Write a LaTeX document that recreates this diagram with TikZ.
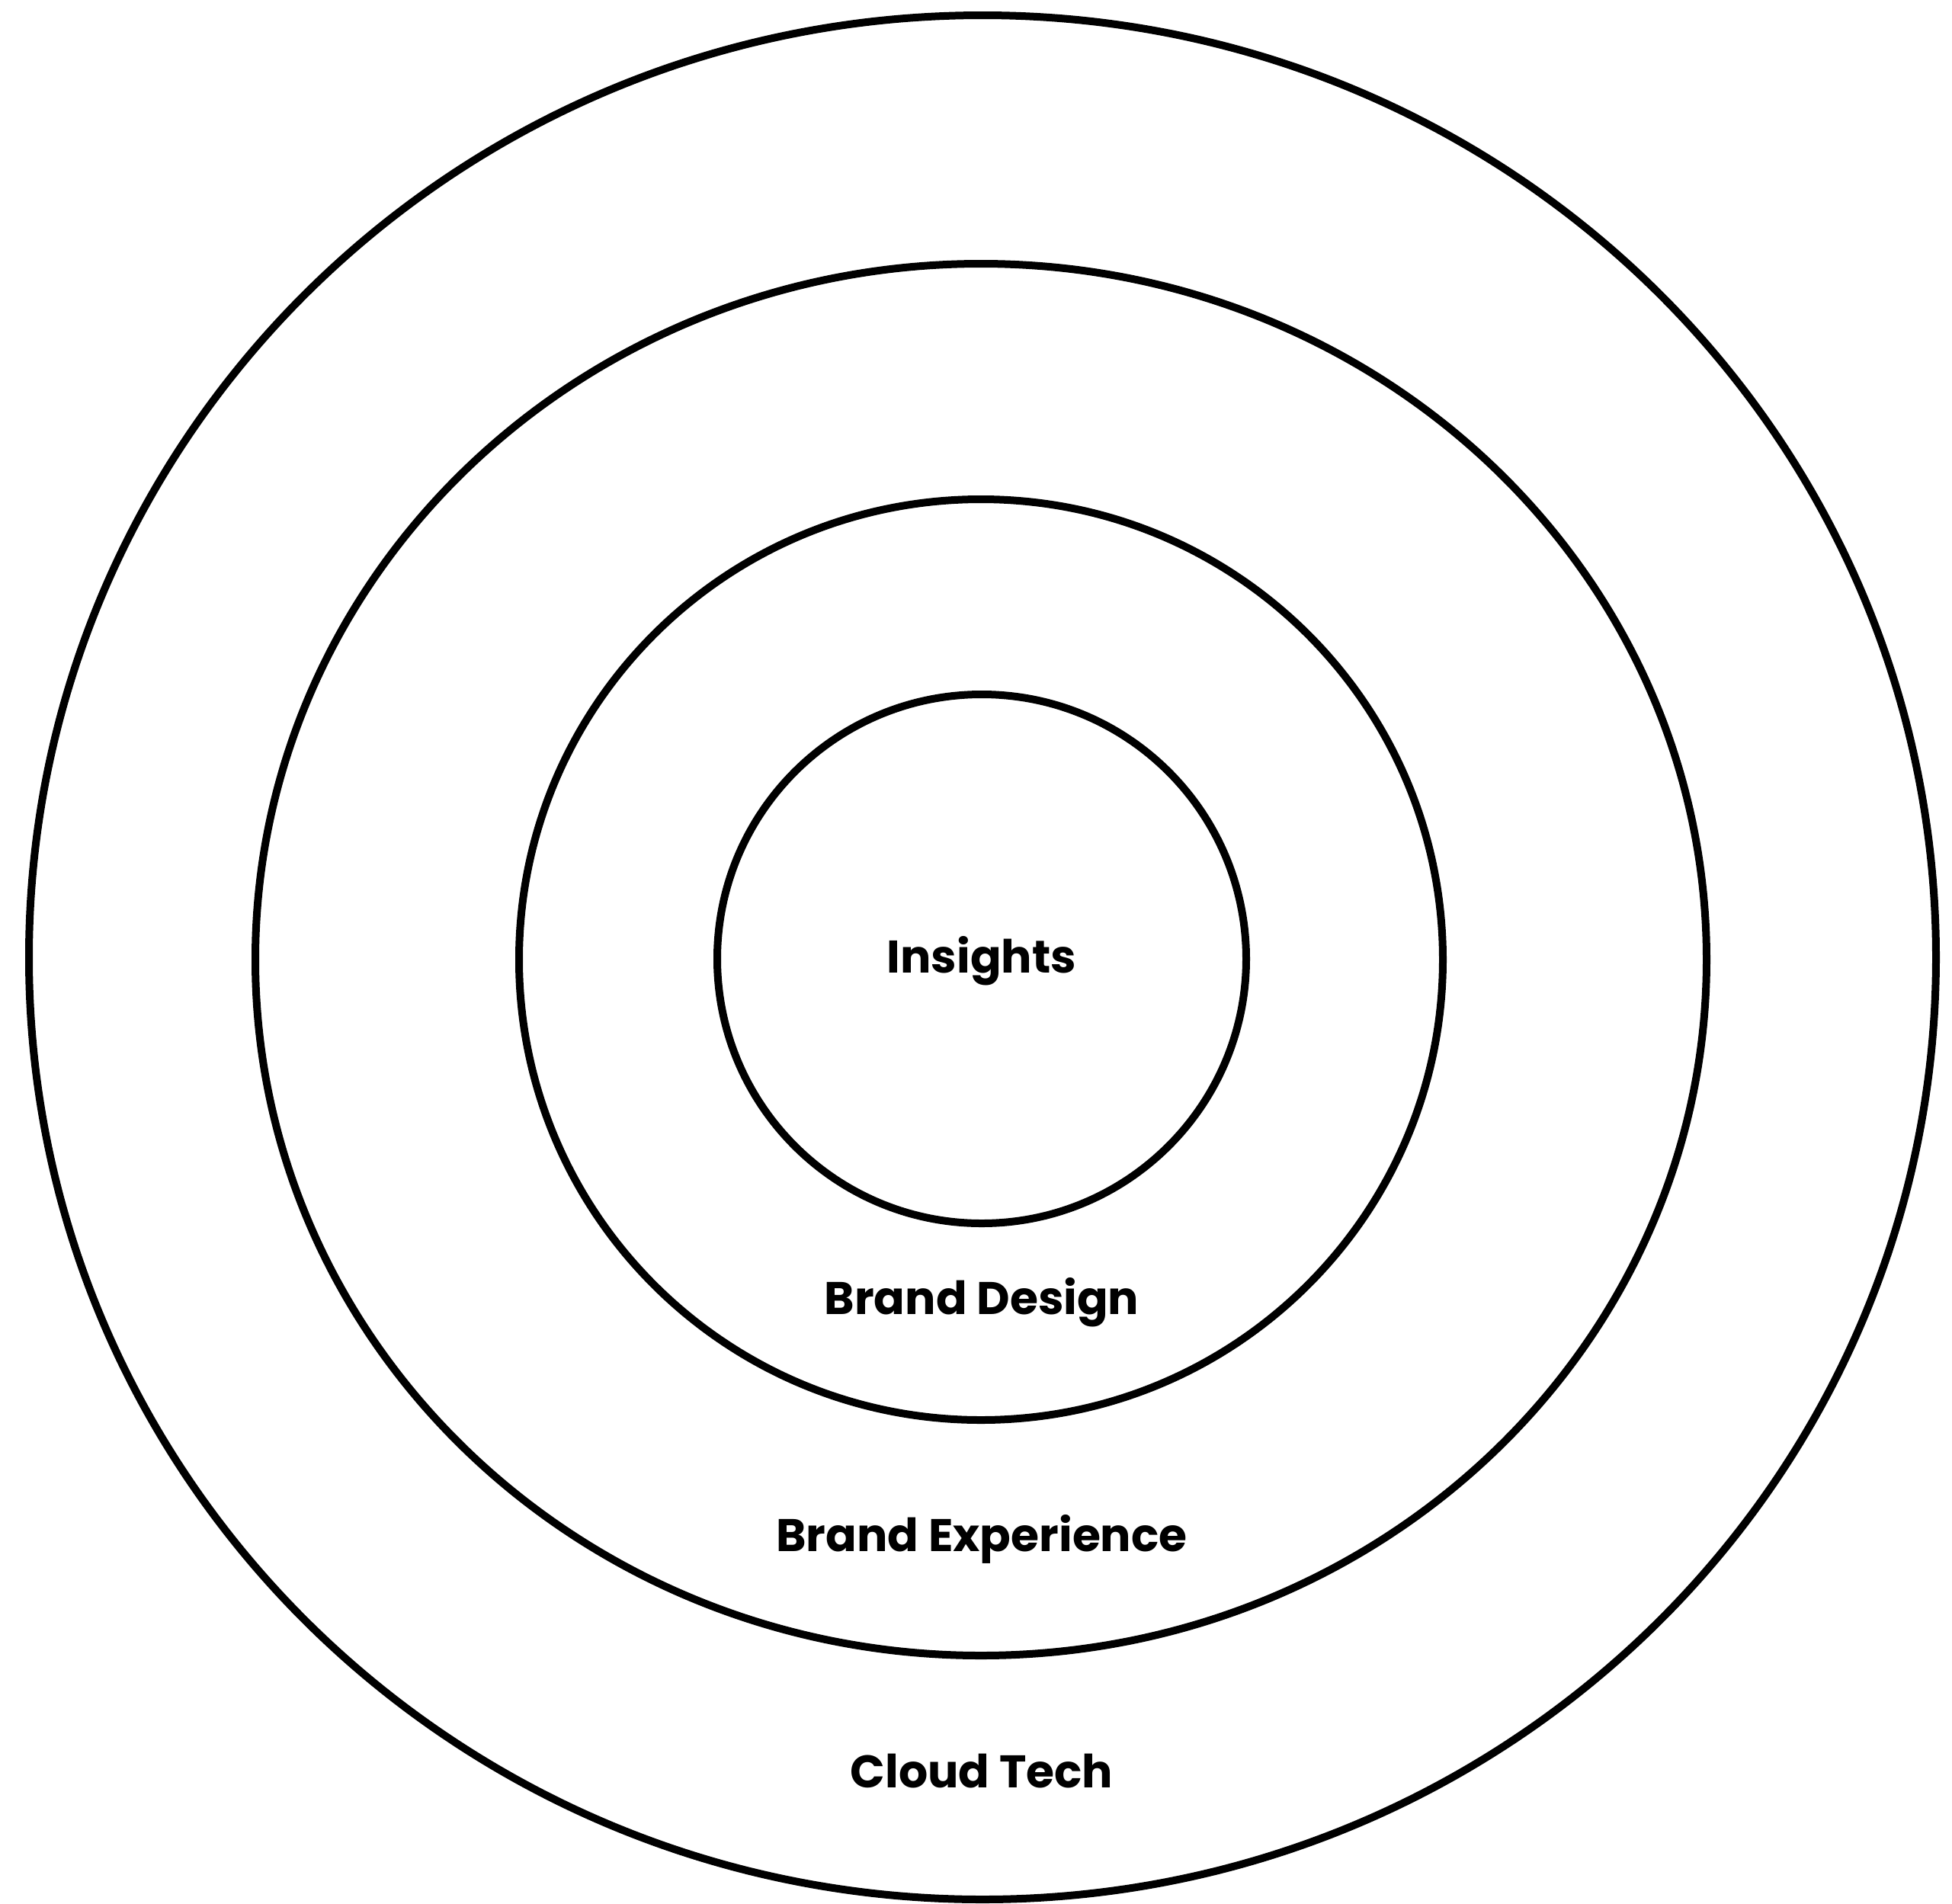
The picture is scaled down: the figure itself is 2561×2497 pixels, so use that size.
\documentclass[tikz,border=0pt]{standalone}
\usepackage{fontspec}
\setmainfont{Poppins}
\usepackage{tikz}

\begin{document}
\begin{tikzpicture}[x=0.25pt,y=0.25pt,yscale=-1,xscale=1]
\tikzset{ring/.style={line width=2.5pt},
  ringlabel/.style={inner sep=0.75pt,font=\fontsize{15}{18}\selectfont\bfseries}}
\useasboundingbox (0,0) rectangle (2561,2497);

%Shape: Ellipse [outer]
\draw [ring] (1289,1256) ellipse (1251 and 1236);
%Shape: Ellipse [second]
\draw [ring] (1287,1259) ellipse (952 and 913);
%Shape: Ellipse [third]
\draw [ring] (1287,1259) ellipse (606 and 604);
%Shape: Circle [inner]
\draw [ring] (1288,1258) ellipse (347 and 347);

% Text Node
\node [ringlabel] (insights) at (1288,1261) {Insights};
% Text Node
\node [ringlabel] (design) at (1288,1709) {Brand Design};
% Text Node
\node [ringlabel] (experience) at (1288,2019) {Brand Experience};
% Text Node
\node [ringlabel] (cloud) at (1288,2324) {Cloud Tech};

\end{tikzpicture}
\end{document}
